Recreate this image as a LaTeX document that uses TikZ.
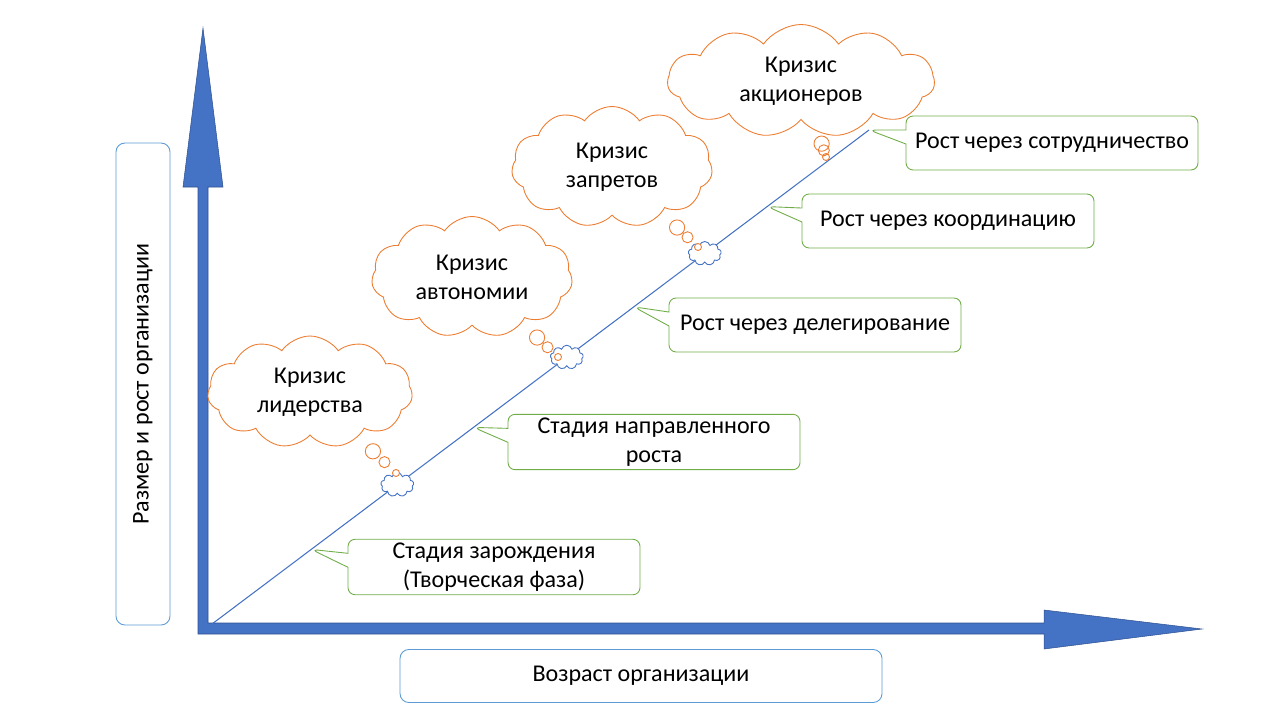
\documentclass[tikz,border=0pt]{standalone}
\usepackage{fontspec}
\setmainfont{Carlito}
\usetikzlibrary{shapes.callouts}
\usetikzlibrary{shapes.symbols}

\definecolor{axis_blue}{HTML}{4472C4}
\definecolor{axis_edge}{HTML}{2F528F}
\definecolor{crisis_orange}{HTML}{ED7D31}
\definecolor{growth_green}{HTML}{70AD47}
\definecolor{label_blue}{HTML}{5B9BD5}

\begin{document}
\begin{tikzpicture}[
      x=0.02cm, y=-0.02cm,
      every node/.style={font=\fontsize{13.7}{16.4}\selectfont},
      axis_arrow/.style={fill=axis_blue, draw=axis_edge, line width=0.3pt},
      trend_line/.style={axis_blue, line width=0.6pt},
      growth_box/.style={rectangle callout, draw=growth_green, fill=white, line width=0.5pt,
        rounded corners=4pt, minimum width=5.84cm, minimum height=1.08cm,
        align=center, inner sep=2pt, callout pointer width=0.28cm},
      crisis_cloud/.style={cloud callout, draw=crisis_orange, fill=white, line width=0.5pt,
        cloud puffs=11, cloud puff arc=110, cloud ignores aspect, align=center,
        callout pointer segments=3, callout pointer start size=11pt,
        callout pointer end size=4pt},
      small_cloud/.style={cloud, draw=axis_blue, fill=white, line width=0.5pt,
        cloud puffs=9, cloud ignores aspect, minimum width=0.66cm,
        minimum height=0.48cm, inner sep=0pt},
      axis_label/.style={draw=label_blue, rounded corners=5pt, line width=0.5pt}
    ]

    \useasboundingbox (0,0) rectangle (1280,720);

    % ------------------------------------------------------------------ %
    % Axes
    % ------------------------------------------------------------------ %

    \draw[axis_arrow] (198,634) -- (198,187) -- (183,187) -- (203,28) -- (223,187)
      -- (208,187) -- (208,623) -- (1044,623) -- (1044,610) -- (1202,629)
      -- (1044,649) -- (1044,634) -- cycle;

    \node[axis_label, rotate=90, minimum width=9.64cm, minimum height=1.08cm]
      (size_label) at (143,384) {Размер и рост организации};
    \node[axis_label, minimum width=9.64cm, minimum height=1.06cm]
      (age_label) at (641,676) {Возраст организации};

    % ------------------------------------------------------------------ %
    % Growth line
    % ------------------------------------------------------------------ %

    \coordinate (origin) at (212,624);
    \coordinate (top_end) at (869,130);
    \draw[trend_line] (origin) -- (top_end)
      coordinate[pos=0.151] (tip_a)
      coordinate[pos=0.398] (tip_b)
      coordinate[pos=0.642] (tip_c)
      coordinate[pos=0.845] (tip_d)
      coordinate[pos=0.282] (crisis_a)
      coordinate[pos=0.540] (crisis_b)
      coordinate[pos=0.750] (crisis_c);

    % small clouds on the line
    \node[small_cloud] (spot_a) at (crisis_a) {};
    \node[small_cloud] (spot_b) at (crisis_b) {};
    \node[small_cloud] (spot_c) at (crisis_c) {};

    % ------------------------------------------------------------------ %
    % Growth stages
    % ------------------------------------------------------------------ %

    \node[growth_box, callout absolute pointer={(tip_a)}] (stage_a) at (494,567)
      {Стадия зарождения\\(Творческая фаза)};
    \node[growth_box, callout absolute pointer={(tip_b)}] (stage_b) at (654,442)
      {Стадия направленного\\роста};
    \node[growth_box, callout absolute pointer={(tip_c)}] (stage_c) at (815,325)
      {Рост через делегирование};
    \node[growth_box, callout absolute pointer={(tip_d)}] (stage_d) at (948,221)
      {Рост через координацию};
    \node[growth_box, callout absolute pointer={(top_end)}] (stage_e) at (1052,143)
      {Рост через сотрудничество};

    % ------------------------------------------------------------------ %
    % Crises
    % ------------------------------------------------------------------ %

    \node[crisis_cloud, minimum width=4.1cm, minimum height=2.24cm,
      callout absolute pointer={(396,473)}] (crisis_one) at (310,392)
      {Кризис\\лидерства};
    \node[crisis_cloud, minimum width=4.02cm, minimum height=2.42cm,
      callout absolute pointer={(558,357)}] (crisis_two) at (472,277)
      {Кризис\\автономии};
    \node[crisis_cloud, minimum width=4.02cm, minimum height=2.42cm,
      callout absolute pointer={(698,247)}] (crisis_three) at (612,167)
      {Кризис\\запретов};
    \node[crisis_cloud, minimum width=5.34cm, minimum height=2.26cm,
      callout absolute pointer={(826,157)}] (crisis_four) at (801,81)
      {Кризис\\акционеров};

    \end{tikzpicture}
\end{document}
